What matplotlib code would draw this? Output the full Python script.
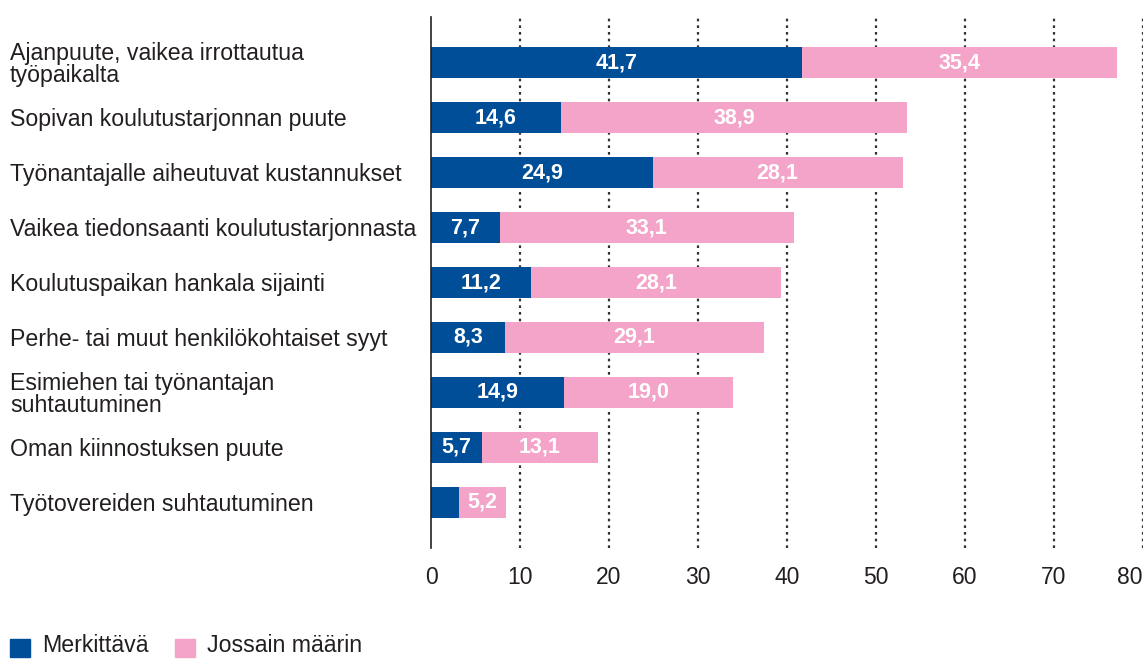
import matplotlib
matplotlib.use("Agg")
import matplotlib.pyplot as plt
import matplotlib.transforms as mtransforms

plt.rcParams['font.family'] = ['Liberation Sans', 'DejaVu Sans']

categories = [
    "Ajanpuute, vaikea irrottautua\ntyöpaikalta",
    "Sopivan koulutustarjonnan puute",
    "Työnantajalle aiheutuvat kustannukset",
    "Vaikea tiedonsaanti koulutustarjonnasta",
    "Koulutuspaikan hankala sijainti",
    "Perhe- tai muut henkilökohtaiset syyt",
    "Esimiehen tai työnantajan\nsuhtautuminen",
    "Oman kiinnostuksen puute",
    "Työtovereiden suhtautuminen",
]
merkittava = [41.7, 14.6, 24.9, 7.7, 11.2, 8.3, 14.9, 5.7, 3.2]
jossain = [35.4, 38.9, 28.1, 33.1, 28.1, 29.1, 19.0, 13.1, 5.2]
show_merk_label = [True, True, True, True, True, True, True, True, False]
series_names = ["Merkittävä", "Jossain määrin"]
xticks = [0, 10, 20, 30, 40, 50, 60, 70, 80]

BLUE = "#004e98"
PINK = "#f3a4c8"
TEXT = "#231f20"

W, H = 1144, 659
fig = plt.figure(figsize=(W / 100, H / 100), dpi=100)
ax = fig.add_axes([431 / W, 1 - 548 / H, (1143 - 431) / W, (548 - 17) / H])

y = list(range(len(categories)))
bh = 0.57
ax.barh(y, merkittava, height=bh, color=BLUE, zorder=3)
ax.barh(y, jossain, left=merkittava, height=bh, color=PINK, zorder=3)

def fmt(v):
    return f"{v:.1f}".replace(".", ",")

for i in y:
    if show_merk_label[i]:
        ax.text(merkittava[i] / 2, i, fmt(merkittava[i]), ha="center", va="center",
                color="white", fontsize=15.5, fontweight="bold", zorder=4)
    ax.text(merkittava[i] + jossain[i] / 2, i, fmt(jossain[i]), ha="center", va="center",
            color="white", fontsize=15.5, fontweight="bold", zorder=4)

ax.set_xlim(0, 80)
ax.set_ylim(len(categories) - 1 + 0.83, -0.83)
ax.set_xticks(xticks)
ax.set_xticklabels([str(t) for t in xticks], fontsize=16.5, color=TEXT)
ax.get_xticklabels()[-1].set_horizontalalignment("right")
ax.set_yticks([])
ax.tick_params(axis="x", length=0, pad=13)
for t in xticks[1:]:
    ax.axvline(t, color="#333333", linestyle=(0, (1.2, 1.8)), linewidth=1.6, zorder=1)
for s in ["top", "right", "bottom"]:
    ax.spines[s].set_visible(False)
ax.spines["left"].set_color("#222222")
ax.spines["left"].set_linewidth(1.2)
ax.spines["left"].set_zorder(5)

trans = mtransforms.blended_transform_factory(fig.transFigure, ax.transData)
trans = trans + mtransforms.ScaledTranslation(0, -2 / 100, fig.dpi_scale_trans)
for i, c in enumerate(categories):
    ax.text(10 / W, i, c, transform=trans, ha="left", va="center", fontsize=16.7,
            color=TEXT, linespacing=0.95)

# legend
fig.patches.append(plt.Rectangle((10 / W, 1 - 657 / H), 20 / W, 18 / H,
                                 transform=fig.transFigure, color=BLUE))
fig.text(42 / W, 1 - 646 / H, series_names[0], ha="left", va="center", fontsize=16.7, color=TEXT)
fig.patches.append(plt.Rectangle((175 / W, 1 - 657 / H), 20 / W, 18 / H,
                                 transform=fig.transFigure, color=PINK))
fig.text(207 / W, 1 - 646 / H, series_names[1], ha="left", va="center", fontsize=16.7, color=TEXT)

fig.savefig("out.png", dpi=100)
